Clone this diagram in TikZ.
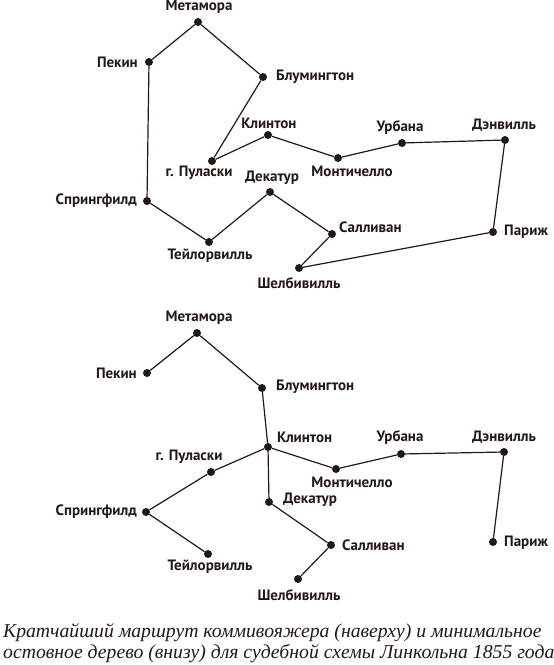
\documentclass[tikz,border=0pt]{standalone}
\usepackage{fontspec}
\setmainfont{PT Sans}
\newfontfamily\capfont{Liberation Serif}
\definecolor{ink}{HTML}{231815}

\begin{document}
\begin{tikzpicture}[x=1pt, y=-1pt,
  dot/.style={circle, fill=ink, inner sep=0pt, minimum size=8pt},
  city/.style={font=\fontsize{15}{15}\selectfont\bfseries, text=ink, inner sep=0pt},
  road/.style={draw=ink, line width=1.2pt},
  capline/.style={font=\capfont\itshape\fontsize{19.7}{21}\selectfont, text=ink, inner sep=0pt, anchor=base west}
]
  \useasboundingbox (0,0) rectangle (554,665);

  % Top: shortest tour
  \node[dot] (tmet) at (198,22) {};
  \node[dot] (tpek) at (149,62) {};
  \node[dot] (tblu) at (263,77) {};
  \node[dot] (tkli) at (268,135) {};
  \node[dot] (turb) at (402,143) {};
  \node[dot] (tden) at (505,140) {};
  \node[dot] (tpul) at (212,161) {};
  \node[dot] (tmon) at (338,158) {};
  \node[dot] (tdek) at (270,192) {};
  \node[dot] (tspr) at (147,201) {};
  \node[dot] (ttay) at (209,242) {};
  \node[dot] (tsul) at (332,234) {};
  \node[dot] (tshe) at (299,268) {};
  \node[dot] (tpar) at (493,232) {};

  \node[city] (tmet-l) at (199,7) {Метамора};
  \node[city, anchor=east] (tpek-l) at (138,62) {Пекин};
  \node[city, anchor=west] (tblu-l) at (276,77) {Блумингтон};
  \node[city] (tkli-l) at (269,123) {Клинтон};
  \node[city] (turb-l) at (400,128) {Урбана};
  \node[city] (tden-l) at (504,125) {Дэнвилль};
  \node[city] (tpul-l) at (199,173) {г. Пуласки};
  \node[city] (tmon-l) at (352,171) {Монтичелло};
  \node[city] (tdek-l) at (272,178) {Декатур};
  \node[city, anchor=east] (tspr-l) at (137,201) {Спрингфилд};
  \node[city] (ttay-l) at (210,256) {Тейлорвилль};
  \node[city, anchor=west] (tsul-l) at (339,227) {Салливан};
  \node[city] (tshe-l) at (299,283) {Шелбивилль};
  \node[city, anchor=west] (tpar-l) at (504,232) {Париж};

  \draw[road] (tmet) -- (tpek) -- (tspr) -- (ttay) -- (tdek) -- (tsul) -- (tshe)
    -- (tpar) -- (tden) -- (turb) -- (tmon) -- (tkli) -- (tpul) -- (tblu) -- (tmet);

  % Bottom: minimum spanning tree
  \node[dot] (bmet) at (197,333) {};
  \node[dot] (bpek) at (147,373) {};
  \node[dot] (bblu) at (262,388) {};
  \node[dot] (bkli) at (268,447) {};
  \node[dot] (burb) at (401,454) {};
  \node[dot] (bden) at (504,452) {};
  \node[dot] (bpul) at (211,472) {};
  \node[dot] (bmon) at (336,469) {};
  \node[dot] (bdek) at (269,502) {};
  \node[dot] (bspr) at (146,512) {};
  \node[dot] (btay) at (208,554) {};
  \node[dot] (bsul) at (331,545) {};
  \node[dot] (bshe) at (298,579) {};
  \node[dot] (bpar) at (493,542) {};

  \node[city] (bmet-l) at (199,318) {Метамора};
  \node[city, anchor=east] (bpek-l) at (137,373) {Пекин};
  \node[city, anchor=west] (bblu-l) at (276,387) {Блумингтон};
  \node[city, anchor=west] (bkli-l) at (277,437) {Клинтон};
  \node[city] (burb-l) at (400,438) {Урбана};
  \node[city] (bden-l) at (504,437) {Дэнвилль};
  \node[city] (bpul-l) at (189,457) {г. Пуласки};
  \node[city] (bmon-l) at (352,482) {Монтичелло};
  \node[city, anchor=west] (bdek-l) at (283,500) {Декатур};
  \node[city, anchor=east] (bspr-l) at (137,512) {Спрингфилд};
  \node[city] (btay-l) at (210,567) {Тейлорвилль};
  \node[city, anchor=west] (bsul-l) at (342,545) {Салливан};
  \node[city] (bshe-l) at (299,595) {Шелбивилль};
  \node[city, anchor=west] (bpar-l) at (504,543) {Париж};

  \draw[road] (bpek) -- (bmet) -- (bblu) -- (bkli) -- (bpul) -- (bspr) -- (btay);
  \draw[road] (bkli) -- (bdek) -- (bsul) -- (bshe);
  \draw[road] (bkli) -- (bmon) -- (burb) -- (bden) -- (bpar);

  % Caption
  \node[capline] (cap1) at (3,637) {Кратчайший маршрут коммивояжера (наверху) и минимальное};
  \node[capline] (cap2) at (3,658) {остовное дерево (внизу) для судебной схемы Линкольна 1855 года};
\end{tikzpicture}
\end{document}
